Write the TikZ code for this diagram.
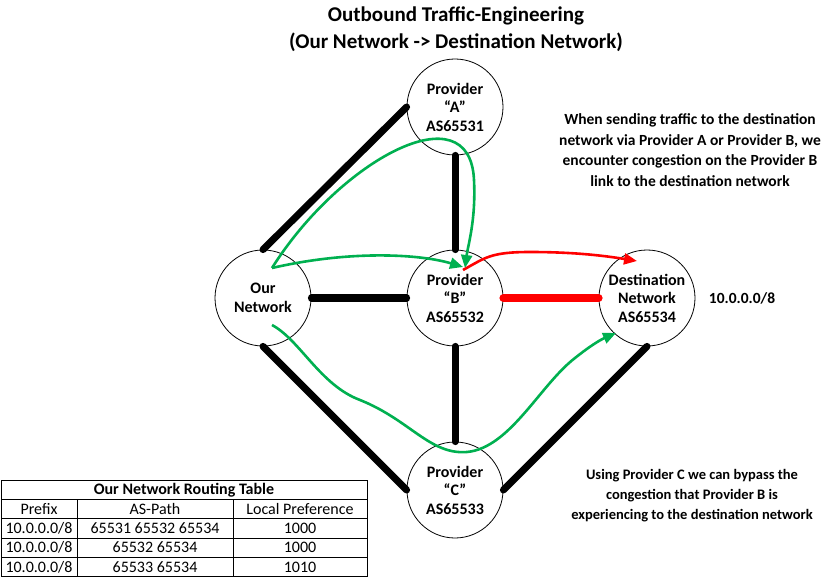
\documentclass[tikz,border=0pt]{standalone}
\usepackage{fontspec}
\setmainfont{Carlito}
\usetikzlibrary{arrows.meta}
\definecolor{ggreen}{RGB}{0,176,80}
\definecolor{rred}{RGB}{255,0,0}
\begin{document}
\begin{tikzpicture}[x=1pt,y=-1pt,
  router/.style={circle,draw,line width=0.8pt,minimum size=96pt,inner sep=0pt,align=center,font=\fontsize{16}{18.5}\selectfont\bfseries},
  link/.style={line width=7pt,line cap=round},
  flow/.style={line width=2.6pt,-{Triangle[length=13pt,width=11pt]}},
  note/.style={align=center,font=\fontsize{15.5}{20.5}\selectfont\bfseries},
  cell/.style={font=\fontsize{16}{17}\selectfont,inner sep=0pt}
]
\useasboundingbox (0,0) rectangle (835,577);
% title
\node[font=\fontsize{21}{26.5}\selectfont\bfseries,align=center] (title) at (456,29) {Outbound Traffic-Engineering\\(Our Network -> Destination Network)};
% routers
\node[router] (A) at (455,107) {Provider\\“A”\\AS65531};
\node[router] (our) at (263,298) {Our\\Network};
\node[router] (B) at (455,298) {Provider\\“B”\\AS65532};
\node[router] (D) at (647,298) {Destination\\Network\\AS65534};
\node[router] (C) at (455,490) {Provider\\“C”\\AS65533};
% links
\draw[link] (A.west) -- (our.north);
\draw[link] (A.south) -- (B.north);
\draw[link] (our.east) -- (B.west);
\draw[link,rred,line width=8pt] (B.east) -- (D.west);
\draw[link] (B.south) -- (C.north);
\draw[link] (our.south) -- (C.west);
\draw[link] (D.south) -- (C.east);
% flow coordinates
\coordinate (s1) at (272,268);
\coordinate (s3) at (272,325);
\coordinate (tA) at (465,268);
\coordinate (tB) at (463,267);
\coordinate (r0) at (463,270);
\coordinate (tD) at (637,261);
\coordinate (tC) at (616,333);
% flows
\draw[flow,ggreen] (s1) .. controls (340,160) and (470,90) .. (474,180) .. controls (476,220) and (468,245) .. (tA);
\draw[flow,ggreen] (s1) .. controls (350,250) and (420,254) .. (tB);
\draw[flow,rred] (r0) .. controls (485,258) and (490,252) .. (530,252) .. controls (570,252) and (600,255) .. (tD);
\draw[flow,ggreen] (s3) .. controls (300,340) and (320,385) .. (360,400) .. controls (410,420) and (430,455) .. (467,452) .. controls (510,448) and (540,385) .. (575,358) .. controls (590,346) and (600,340) .. (tC);
% notes
\node[note] (n1) at (690,150) {When sending traffic to the destination\\network via Provider A or Provider B, we\\encounter congestion on the Provider B\\link to the destination network};
\node[note] (pfx) at (742,298) {10.0.0.0/8};
\node[note,font=\fontsize{14.5}{20}\selectfont\bfseries] (n2) at (692,496) {Using Provider C we can bypass the\\congestion that Provider B is\\experiencing to the destination network};
% table
\draw[line width=0.8pt] (1,480) rectangle (367,576.5);
\draw[line width=0.8pt] (1,499) -- (367,499);
\draw[line width=0.8pt] (1,518) -- (367,518);
\draw[line width=0.8pt] (1,538) -- (367,538);
\draw[line width=0.8pt] (1,557) -- (367,557);
\draw[line width=0.8pt] (77,499) -- (77,576.5);
\draw[line width=0.8pt] (233,499) -- (233,576.5);
\node[cell,font=\fontsize{16}{17}\selectfont\bfseries] (th) at (184,490) {Our Network Routing Table};
\node[cell] (h1) at (39,509) {Prefix};
\node[cell] (h2) at (155,509) {AS-Path};
\node[cell] (h3) at (300,509) {Local Preference};
\node[cell] (a1) at (39,528) {10.0.0.0/8};
\node[cell] (a2) at (155,528) {65531 65532 65534};
\node[cell] (a3) at (300,528) {1000};
\node[cell] (b1) at (39,547.5) {10.0.0.0/8};
\node[cell] (b2) at (155,547.5) {65532 65534};
\node[cell] (b3) at (300,547.5) {1000};
\node[cell] (c1) at (39,567) {10.0.0.0/8};
\node[cell] (c2) at (155,567) {65533 65534};
\node[cell] (c3) at (300,567) {1010};
\end{tikzpicture}
\end{document}
